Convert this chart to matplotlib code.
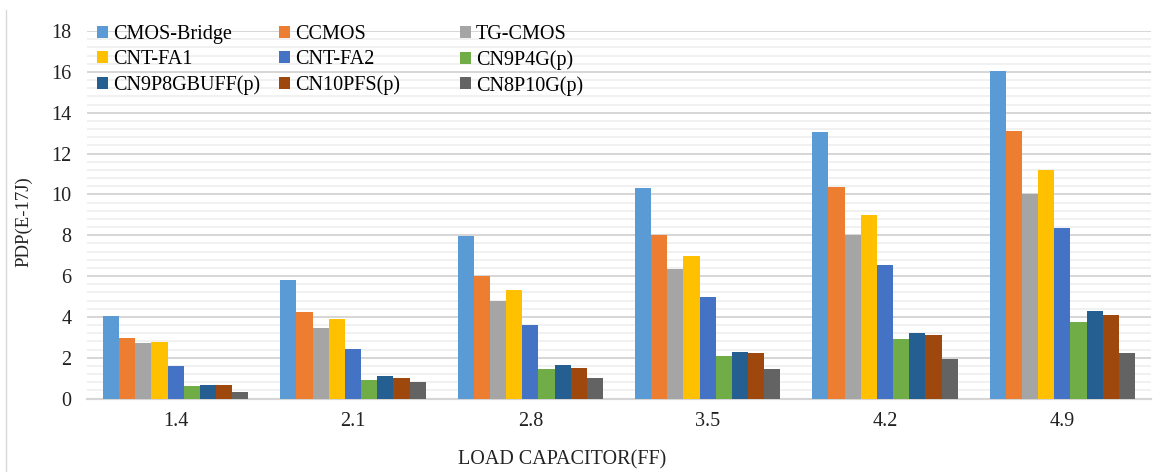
import matplotlib
matplotlib.use("Agg")
import matplotlib.pyplot as plt
import numpy as np
from matplotlib.ticker import MultipleLocator

categories = ["1.4", "2.1", "2.8", "3.5", "4.2", "4.9"]
series_names = ["CMOS-Bridge", "CCMOS", "TG-CMOS", "CNT-FA1", "CNT-FA2",
                "CN9P4G(p)", "CN9P8GBUFF(p)", "CN10PFS(p)", "CN8P10G(p)"]
cmos_bridge = [4.02, 5.82, 7.97, 10.33, 13.07, 16.02]
ccmos = [2.94, 4.22, 6.02, 8.03, 10.38, 13.12]
tg_cmos = [2.72, 3.47, 4.79, 6.32, 8.03, 10.04]
cnt_fa1 = [2.77, 3.88, 5.33, 6.96, 8.98, 11.21]
cnt_fa2 = [1.61, 2.41, 3.59, 4.95, 6.56, 8.33]
cn9p4g = [0.60, 0.90, 1.43, 2.09, 2.93, 3.74]
cn9p8gbuff = [0.67, 1.09, 1.63, 2.27, 3.19, 4.30]
cn10pfs = [0.64, 0.98, 1.50, 2.21, 3.11, 4.07]
cn8p10g = [0.34, 0.80, 1.01, 1.43, 1.95, 2.21]
all_series = [cmos_bridge, ccmos, tg_cmos, cnt_fa1, cnt_fa2,
              cn9p4g, cn9p8gbuff, cn10pfs, cn8p10g]
colors = ["#5B9BD5", "#ED7D31", "#A5A5A5", "#FFC000", "#4472C4",
          "#70AD47", "#255E91", "#9E480E", "#636363"]

plt.rcParams['font.family'] = ['Liberation Serif', 'DejaVu Serif']
FS = 14.5

fig = plt.figure(figsize=(11.69, 4.72), dpi=100)
ax = fig.add_axes([87/1169, 1 - 398.5/472, (1151-87)/1169, (398.5-31)/472])

n = len(all_series)
x = np.arange(len(categories))
group = 0.82
bw = group / n
bars = []
for i, (vals, c, name) in enumerate(zip(all_series, colors, series_names)):
    b = ax.bar(x - group/2 + bw*(i+0.5), vals, width=bw, color=c, label=name,
               zorder=3, linewidth=0)
    bars.append(b)

ax.set_xlim(-0.5, len(categories) - 0.5)
ax.set_ylim(0, 18)
ax.yaxis.set_major_locator(MultipleLocator(2))
ax.yaxis.set_minor_locator(MultipleLocator(0.4))
ax.grid(axis='y', which='major', color='#d6d6d6', linewidth=1.4, zorder=0)
ax.grid(axis='y', which='minor', color='#efefef', linewidth=1.2, zorder=0)
for s in ['top', 'right', 'left']:
    ax.spines[s].set_visible(False)
ax.spines['bottom'].set_color('#d6d6d6')
ax.spines['bottom'].set_linewidth(1.6)
ax.set_xticks(x)
ax.set_xticklabels(categories)
ax.tick_params(axis='both', which='both', length=0, labelsize=FS, colors='#222222')
ax.tick_params(axis='y', pad=11)
ax.tick_params(axis='x', pad=10)
ax.set_xlabel("LOAD CAPACITOR(FF)", fontsize=14.5, color='#222222', va='center')
ax.xaxis.set_label_coords((562 - 87) / 1064, -(460 - 398.5) / 367.5)
ax.set_ylabel("PDP(E-17J)", fontsize=13.5, color='#222222', va='center')
ax.yaxis.set_label_coords((23.5 - 87) / 1064, (398.5 - 222) / 367.5)

# legend: three columns placed at fixed positions (row-major order as in reference)
col_x = [97, 279, 460]
for ci in range(3):
    idx = [ci, ci + 3, ci + 6]
    leg = ax.legend([bars[k] for k in idx], [series_names[k] for k in idx],
                    loc='upper left', frameon=False, fontsize=FS,
                    bbox_to_anchor=(col_x[ci]/1169, 1 - 25/472),
                    bbox_transform=fig.transFigure,
                    handlelength=0.55, handleheight=0.55, handletextpad=0.25,
                    labelspacing=0.3, borderpad=0, borderaxespad=0)
    if ci < 2:
        ax.add_artist(leg)

# faint chart frame line on the left
fig.add_artist(plt.Line2D([6/1169, 6/1169], [0, 1 - 10/472],
                          transform=fig.transFigure, color='#d9d9d9', linewidth=1))

fig.savefig("out.png", dpi=100)
